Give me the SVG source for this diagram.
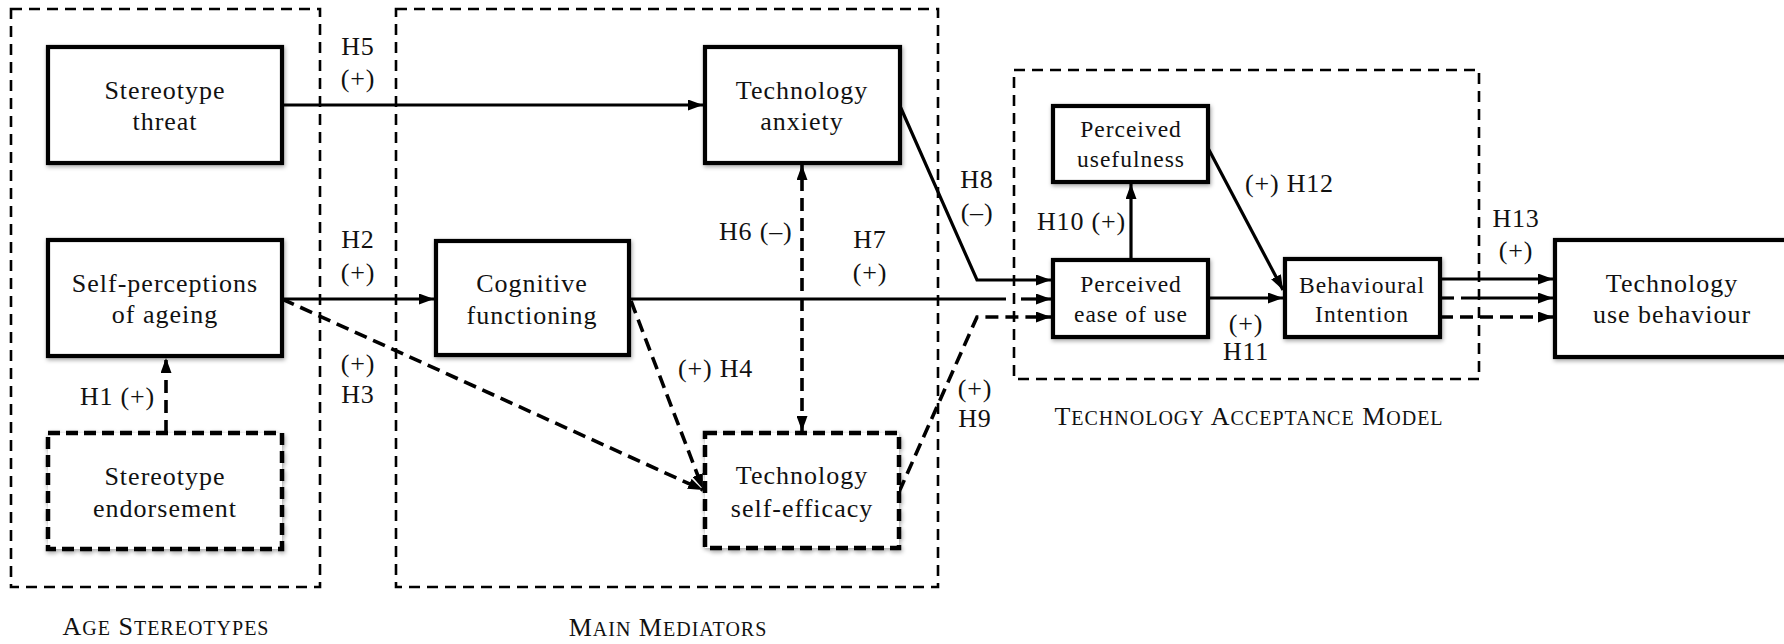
<svg xmlns="http://www.w3.org/2000/svg" width="1784" height="644" viewBox="0 0 1784 644">
  <style>
    text { font-family: "Liberation Serif", "Times New Roman", serif; fill: #111; }
    .nt { font-size: 26px; letter-spacing: 1px; text-anchor: middle; }
    .ns { font-size: 23.5px; letter-spacing: 1px; text-anchor: middle; }
    .lb { font-size: 26px; letter-spacing: 0.8px; }
    .mid { text-anchor: middle; }
    .grp { font-size: 26px; letter-spacing: 1px; text-anchor: middle; }
    .sc { font-size: 20px; }
    .box { fill: #fff; stroke: #000; stroke-width: 4.2; filter: url(#shadow); }
    .dbox { fill: #fff; stroke: #000; stroke-width: 4.5; stroke-dasharray: 12 6; filter: url(#shadow); }
    .frame { fill: none; stroke: #000; stroke-width: 2.6; stroke-dasharray: 11 7; }
    .ln { fill: none; stroke: #000; stroke-width: 3.2; }
    .dl { fill: none; stroke: #000; stroke-width: 3.6; stroke-dasharray: 13 7; }
    .arr { marker-end: url(#ah); }
  </style>
  <defs>
    <filter id="shadow" x="-10%" y="-10%" width="120%" height="130%">
      <feDropShadow dx="1" dy="2" stdDeviation="2.2" flood-color="#000" flood-opacity="0.35"/>
    </filter>
    <marker id="ah" markerUnits="userSpaceOnUse" markerWidth="15" markerHeight="11" refX="15" refY="5.5" orient="auto-start-reverse">
      <path d="M0,0 L15,5.5 L0,11 z" fill="#000"/>
    </marker>
  </defs>

  <!-- group frames -->
  <g id="frames">
    <rect class="frame" x="11" y="9" width="309" height="578"/>
    <rect class="frame" x="396" y="9" width="542" height="578"/>
    <rect class="frame" x="1014" y="70" width="465" height="309"/>
  </g>

  <!-- connectors -->
  <g id="connectors">
    <!-- H5 -->
    <path class="ln arr" d="M282,105 H703"/>
    <!-- H2 -->
    <path class="ln arr" d="M282,299 H434"/>
    <!-- H3 -->
    <path class="dl arr" d="M282,299 L703,490"/>
    <!-- H1 -->
    <path class="dl arr" d="M166,433 V358"/>
    <!-- H4 -->
    <path class="dl arr" d="M631,301 L703,489"/>
    <!-- H6 (double-headed) -->
    <path class="dl arr" d="M802,431 V165" marker-start="url(#ah)"/>
    <!-- H7 -->
    <path class="ln" d="M629,299 H1006"/>
    <path class="ln arr" d="M1021,299 H1051"/>
    <!-- H8 -->
    <path class="ln arr" d="M900,106 L977,280 H1051"/>
    <!-- H9 -->
    <path class="dl arr" d="M899,492 L977,317 H1051"/>
    <!-- H10 -->
    <path class="ln arr" d="M1131,260 V184"/>
    <!-- H11 -->
    <path class="ln arr" d="M1208,298 H1283"/>
    <!-- H12 -->
    <path class="ln arr" d="M1208,148 L1283,290"/>
    <!-- H13 -->
    <path class="ln arr" d="M1440,279 H1553"/>
    <path class="ln" d="M1440,298 H1454"/>
    <path class="ln arr" d="M1461,298 H1553"/>
    <path class="dl arr" d="M1440,317 H1553"/>
  </g>

  <!-- nodes -->
  <g id="stereotype-threat">
    <rect class="box" x="48" y="47" width="234" height="116"/>
    <text class="nt" x="165" y="99">Stereotype</text>
    <text class="nt" x="165" y="130">threat</text>
  </g>
  <g id="self-perceptions">
    <rect class="box" x="48" y="240" width="234" height="116"/>
    <text class="nt" x="165" y="292">Self-perceptions</text>
    <text class="nt" x="165" y="323">of ageing</text>
  </g>
  <g id="stereotype-endorsement">
    <rect class="dbox" x="48" y="433" width="234" height="116"/>
    <text class="nt" x="165" y="485">Stereotype</text>
    <text class="nt" x="165" y="517">endorsement</text>
  </g>
  <g id="cognitive-functioning">
    <rect class="box" x="436" y="241" width="193" height="114"/>
    <text class="nt" x="532" y="292">Cognitive</text>
    <text class="nt" x="532" y="324">functioning</text>
  </g>
  <g id="technology-anxiety">
    <rect class="box" x="705" y="47" width="195" height="116"/>
    <text class="nt" x="802" y="99">Technology</text>
    <text class="nt" x="802" y="130">anxiety</text>
  </g>
  <g id="technology-self-efficacy">
    <rect class="dbox" x="705" y="433" width="194" height="115"/>
    <text class="nt" x="802" y="484">Technology</text>
    <text class="nt" x="802" y="517">self-efficacy</text>
  </g>
  <g id="perceived-usefulness">
    <rect class="box" x="1053" y="106" width="155" height="76"/>
    <text class="ns" x="1131" y="137">Perceived</text>
    <text class="ns" x="1131" y="167">usefulness</text>
  </g>
  <g id="perceived-ease-of-use">
    <rect class="box" x="1053" y="260" width="155" height="77"/>
    <text class="ns" x="1131" y="292">Perceived</text>
    <text class="ns" x="1131" y="322">ease of use</text>
  </g>
  <g id="behavioural-intention">
    <rect class="box" x="1285" y="259" width="155" height="78"/>
    <text class="ns" x="1362" y="293">Behavioural</text>
    <text class="ns" x="1362" y="322">Intention</text>
  </g>
  <g id="technology-use-behaviour">
    <rect class="box" x="1555" y="240" width="240" height="117"/>
    <text class="nt" x="1672" y="292">Technology</text>
    <text class="nt" x="1672" y="323">use behaviour</text>
  </g>

  <!-- hypothesis labels -->
  <g id="labels">
    <text class="lb mid" x="358" y="55">H5</text>
    <text class="lb mid" x="358" y="87">(+)</text>
    <text class="lb mid" x="358" y="248">H2</text>
    <text class="lb mid" x="358" y="281">(+)</text>
    <text class="lb mid" x="358" y="372">(+)</text>
    <text class="lb mid" x="358" y="403">H3</text>
    <text class="lb" x="155" y="405" text-anchor="end">H1 (+)</text>
    <text class="lb" x="719" y="240">H6 (–)</text>
    <text class="lb mid" x="870" y="248">H7</text>
    <text class="lb mid" x="870" y="281">(+)</text>
    <text class="lb" x="678" y="377">(+) H4</text>
    <text class="lb mid" x="977" y="188">H8</text>
    <text class="lb mid" x="977" y="221">(–)</text>
    <text class="lb mid" x="975" y="397">(+)</text>
    <text class="lb mid" x="975" y="427">H9</text>
    <text class="lb" x="1037" y="230">H10 (+)</text>
    <text class="lb" x="1245" y="192">(+) H12</text>
    <text class="lb mid" x="1246" y="332">(+)</text>
    <text class="lb mid" x="1246" y="360">H11</text>
    <text class="lb mid" x="1516" y="227">H13</text>
    <text class="lb mid" x="1516" y="259">(+)</text>
  </g>

  <!-- group titles in small caps -->
  <g id="group-titles">
    <text class="grp" x="166" y="635">A<tspan class="sc">GE</tspan> S<tspan class="sc">TEREOTYPES</tspan></text>
    <text class="grp" x="668" y="636">M<tspan class="sc">AIN</tspan> M<tspan class="sc">EDIATORS</tspan></text>
    <text class="grp" x="1249" y="425">T<tspan class="sc">ECHNOLOGY</tspan> A<tspan class="sc">CCEPTANCE</tspan> M<tspan class="sc">ODEL</tspan></text>
  </g>
</svg>
